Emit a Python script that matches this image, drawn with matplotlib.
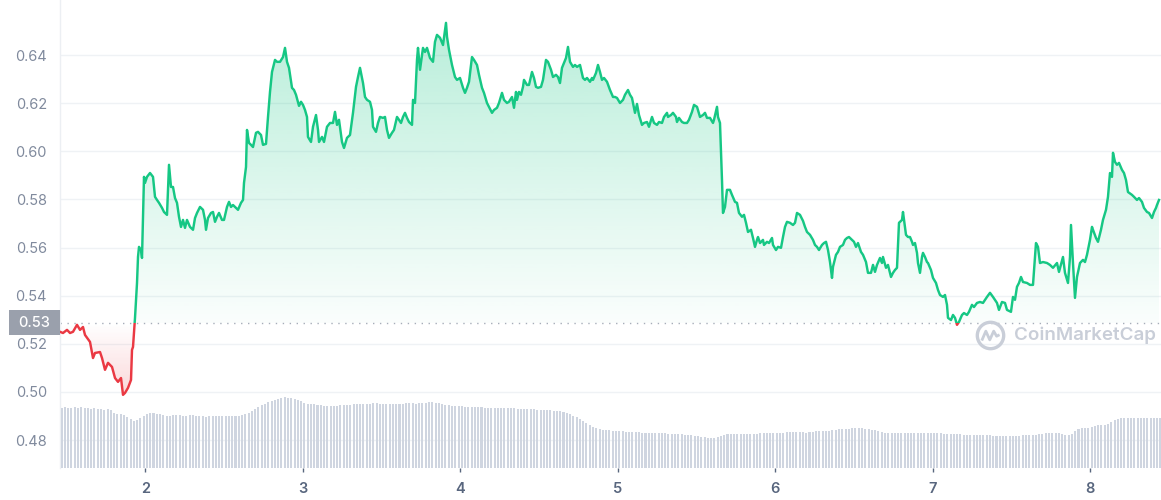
import numpy as np
import matplotlib
matplotlib.use('Agg')
import matplotlib.pyplot as plt
from matplotlib.patches import Polygon, Rectangle
from matplotlib.path import Path
from matplotlib.transforms import blended_transform_factory

plt.rcParams['font.family'] = ['Inter', 'DejaVu Sans']

# ---------------- data ----------------
days = [
    1.4582, 1.4773, 1.5027, 1.5218, 1.5408, 1.5662, 1.5853, 1.6043, 1.6170, 1.6488,
    1.6678, 1.6805, 1.7123, 1.7250, 1.7440, 1.7631, 1.7885, 1.8076, 1.8266, 1.8457,
    1.8584, 1.8711, 1.8901, 1.9092, 1.9155, 1.9219, 1.9346, 1.9473, 1.9536, 1.9600,
    1.9727, 1.9790, 1.9917, 1.9981, 2.0108, 2.0299, 2.0489, 2.0616, 2.0743, 2.0870,
    2.1061, 2.1188, 2.1378, 2.1505, 2.1632, 2.1759, 2.1886, 2.2013, 2.2140, 2.2267,
    2.2394, 2.2521, 2.2648, 2.2839, 2.3030, 2.3157, 2.3284, 2.3474, 2.3665, 2.3792,
    2.3855, 2.3982, 2.4173, 2.4300, 2.4427, 2.4554, 2.4681, 2.4871, 2.4998, 2.5189,
    2.5316, 2.5443, 2.5570, 2.5761, 2.5888, 2.6078, 2.6205, 2.6269, 2.6396, 2.6459,
    2.6586, 2.6713, 2.6840, 2.7031, 2.7158, 2.7348, 2.7475, 2.7666, 2.7793, 2.7920,
    2.8047, 2.8238, 2.8365, 2.8555, 2.8746, 2.8873, 2.9000, 2.9127, 2.9317, 2.9444,
    2.9571, 2.9762, 2.9889, 3.0016, 3.0143, 3.0270, 3.0333, 3.0524, 3.0651, 3.0842,
    3.0969, 3.1032, 3.1223, 3.1350, 3.1540, 3.1731, 3.1921, 3.2048, 3.2175, 3.2302,
    3.2493, 3.2620, 3.2810, 3.3001, 3.3191, 3.3382, 3.3509, 3.3636, 3.3827, 3.3954,
    3.4081, 3.4271, 3.4398, 3.4462, 3.4652, 3.4779, 3.4906, 3.5097, 3.5224, 3.5351,
    3.5478, 3.5668, 3.5795, 3.5986, 3.6113, 3.6240, 3.6367, 3.6494, 3.6621, 3.6748,
    3.6939, 3.7002, 3.7129, 3.7256, 3.7320, 3.7447, 3.7637, 3.7764, 3.7891, 3.8082,
    3.8272, 3.8399, 3.8526, 3.8717, 3.8908, 3.9098, 3.9162, 3.9289, 3.9479, 3.9670,
    3.9797, 3.9987, 4.0178, 4.0305, 4.0432, 4.0559, 4.0749, 4.0876, 4.1067, 4.1194,
    4.1384, 4.1511, 4.1702, 4.1829, 4.2020, 4.2147, 4.2337, 4.2464, 4.2655, 4.2782,
    4.2972, 4.3099, 4.3290, 4.3417, 4.3544, 4.3607, 4.3734, 4.3861, 4.3988, 4.4052,
    4.4243, 4.4370, 4.4560, 4.4687, 4.4814, 4.4941, 4.5132, 4.5259, 4.5449, 4.5576,
    4.5767, 4.5894, 4.6084, 4.6211, 4.6338, 4.6465, 4.6592, 4.6719, 4.6846, 4.6974,
    4.7164, 4.7291, 4.7418, 4.7609, 4.7799, 4.7926, 4.8053, 4.8244, 4.8371, 4.8434,
    4.8625, 4.8752, 4.8879, 4.9006, 4.9133, 4.9324, 4.9514, 4.9705, 4.9832, 4.9959,
    5.0149, 5.0340, 5.0467, 5.0657, 5.0784, 5.0911, 5.1102, 5.1229, 5.1356, 5.1546,
    5.1673, 5.1864, 5.1991, 5.2182, 5.2309, 5.2499, 5.2626, 5.2817, 5.2944, 5.3134,
    5.3198, 5.3388, 5.3515, 5.3706, 5.3769, 5.3896, 5.4087, 5.4214, 5.4404, 5.4531,
    5.4722, 5.4849, 5.5040, 5.5230, 5.5421, 5.5548, 5.5675, 5.5865, 5.6056, 5.6119,
    5.6310, 5.6373, 5.6500, 5.6627, 5.6691, 5.6818, 5.6945, 5.7135, 5.7262, 5.7453,
    5.7580, 5.7707, 5.7898, 5.8025, 5.8152, 5.8279, 5.8469, 5.8596, 5.8723, 5.8850,
    5.8914, 5.9041, 5.9231, 5.9295, 5.9485, 5.9612, 5.9803, 5.9867, 6.0057, 6.0184,
    6.0375, 6.0502, 6.0629, 6.0756, 6.0946, 6.1137, 6.1264, 6.1391, 6.1581, 6.1772,
    6.1899, 6.2026, 6.2216, 6.2407, 6.2534, 6.2661, 6.2788, 6.2979, 6.3106, 6.3233,
    6.3360, 6.3487, 6.3614, 6.3677, 6.3868, 6.3995, 6.4122, 6.4312, 6.4439, 6.4566,
    6.4693, 6.4884, 6.5011, 6.5138, 6.5265, 6.5456, 6.5583, 6.5773, 6.5900, 6.6091,
    6.6218, 6.6345, 6.6472, 6.6662, 6.6789, 6.6853, 6.7043, 6.7170, 6.7361, 6.7488,
    6.7615, 6.7742, 6.7869, 6.8060, 6.8123, 6.8187, 6.8314, 6.8441, 6.8568, 6.8695,
    6.8758, 6.8885, 6.9012, 6.9076, 6.9203, 6.9330, 6.9393, 6.9520, 6.9647, 6.9711,
    6.9901, 7.0028, 7.0219, 7.0346, 7.0473, 7.0664, 7.0791, 7.0918, 7.0981, 7.1172,
    7.1299, 7.1426, 7.1553, 7.1680, 7.1870, 7.1997, 7.2188, 7.2315, 7.2505, 7.2632,
    7.2823, 7.3013, 7.3204, 7.3458, 7.3649, 7.3839, 7.4093, 7.4220, 7.4411, 7.4601,
    7.4728, 7.4982, 7.5109, 7.5236, 7.5363, 7.5490, 7.5618, 7.5745, 7.5999, 7.6189,
    7.6380, 7.6570, 7.6697, 7.6824, 7.7015, 7.7269, 7.7459, 7.7650, 7.7904, 7.8031,
    7.8285, 7.8412, 7.8603, 7.8730, 7.8793, 7.8920, 7.9047, 7.9174, 7.9365, 7.9555,
    7.9682, 7.9809, 8.0000, 8.0127, 8.0190, 8.0381, 8.0508, 8.0698, 8.0825, 8.1016,
    8.1143, 8.1270, 8.1397, 8.1461, 8.1588, 8.1715, 8.1842, 8.2032, 8.2159, 8.2286,
    8.2413, 8.2667, 8.2794, 8.2985, 8.3112, 8.3302, 8.3429, 8.3620, 8.3747, 8.3938,
    8.4065, 8.4192, 8.4255, 8.4382,
]

price = [
    0.5250, 0.5245, 0.5258, 0.5245, 0.5250, 0.5279, 0.5258, 0.5270, 0.5237, 0.5208,
    0.5141, 0.5162, 0.5166, 0.5141, 0.5092, 0.5121, 0.5104, 0.5058, 0.5042, 0.5058,
    0.4988, 0.4996, 0.5017, 0.5050, 0.5175, 0.5187, 0.5308, 0.5453, 0.5561, 0.5603,
    0.5590, 0.5557, 0.5894, 0.5869, 0.5894, 0.5910, 0.5894, 0.5811, 0.5798, 0.5786,
    0.5765, 0.5748, 0.5736, 0.5944, 0.5852, 0.5852, 0.5806, 0.5786, 0.5728, 0.5686,
    0.5715, 0.5682, 0.5715, 0.5686, 0.5674, 0.5723, 0.5744, 0.5769, 0.5757, 0.5715,
    0.5674, 0.5723, 0.5744, 0.5748, 0.5707, 0.5728, 0.5744, 0.5715, 0.5715, 0.5769,
    0.5790, 0.5769, 0.5777, 0.5765, 0.5757, 0.5786, 0.5798, 0.5869, 0.5935, 0.6089,
    0.6035, 0.6027, 0.6018, 0.6077, 0.6081, 0.6068, 0.6027, 0.6031, 0.6143, 0.6247,
    0.6330, 0.6380, 0.6372, 0.6372, 0.6392, 0.6430, 0.6372, 0.6347, 0.6264, 0.6255,
    0.6235, 0.6189, 0.6206, 0.6193, 0.6172, 0.6143, 0.6060, 0.6039, 0.6102, 0.6151,
    0.6089, 0.6039, 0.6060, 0.6039, 0.6102, 0.6118, 0.6118, 0.6164, 0.6110, 0.6131,
    0.6039, 0.6014, 0.6056, 0.6068, 0.6160, 0.6268, 0.6309, 0.6347, 0.6284, 0.6226,
    0.6214, 0.6206, 0.6172, 0.6102, 0.6081, 0.6118, 0.6143, 0.6139, 0.6143, 0.6089,
    0.6056, 0.6077, 0.6089, 0.6143, 0.6131, 0.6118, 0.6143, 0.6160, 0.6139, 0.6122,
    0.6110, 0.6214, 0.6201, 0.6380, 0.6430, 0.6339, 0.6430, 0.6413, 0.6430, 0.6388,
    0.6372, 0.6455, 0.6484, 0.6472, 0.6442, 0.6534, 0.6476, 0.6422, 0.6359, 0.6309,
    0.6297, 0.6305, 0.6264, 0.6243, 0.6264, 0.6289, 0.6392, 0.6380, 0.6359, 0.6318,
    0.6264, 0.6243, 0.6201, 0.6185, 0.6160, 0.6172, 0.6181, 0.6201, 0.6243, 0.6214,
    0.6201, 0.6206, 0.6226, 0.6181, 0.6247, 0.6214, 0.6247, 0.6235, 0.6268, 0.6297,
    0.6276, 0.6276, 0.6330, 0.6305, 0.6268, 0.6264, 0.6268, 0.6297, 0.6380, 0.6372,
    0.6339, 0.6309, 0.6318, 0.6309, 0.6284, 0.6347, 0.6368, 0.6388, 0.6434, 0.6372,
    0.6351, 0.6359, 0.6351, 0.6359, 0.6305, 0.6297, 0.6305, 0.6289, 0.6305, 0.6297,
    0.6326, 0.6359, 0.6330, 0.6297, 0.6305, 0.6289, 0.6255, 0.6226, 0.6226, 0.6222,
    0.6201, 0.6214, 0.6235, 0.6255, 0.6235, 0.6222, 0.6160, 0.6197, 0.6151, 0.6110,
    0.6118, 0.6122, 0.6102, 0.6143, 0.6118, 0.6110, 0.6122, 0.6118, 0.6143, 0.6160,
    0.6143, 0.6151, 0.6160, 0.6143, 0.6122, 0.6139, 0.6122, 0.6118, 0.6118, 0.6131,
    0.6164, 0.6193, 0.6185, 0.6143, 0.6151, 0.6160, 0.6139, 0.6139, 0.6118, 0.6131,
    0.6185, 0.6143, 0.6118, 0.5881, 0.5744, 0.5769, 0.5840, 0.5840, 0.5819, 0.5790,
    0.5786, 0.5744, 0.5728, 0.5736, 0.5703, 0.5665, 0.5674, 0.5640, 0.5603, 0.5632,
    0.5644, 0.5619, 0.5632, 0.5611, 0.5624, 0.5619, 0.5640, 0.5611, 0.5590, 0.5603,
    0.5599, 0.5644, 0.5686, 0.5707, 0.5703, 0.5694, 0.5703, 0.5744, 0.5736, 0.5711,
    0.5686, 0.5665, 0.5653, 0.5632, 0.5611, 0.5603, 0.5590, 0.5611, 0.5619, 0.5624,
    0.5590, 0.5540, 0.5474, 0.5520, 0.5570, 0.5582, 0.5603, 0.5611, 0.5632, 0.5640,
    0.5644, 0.5632, 0.5624, 0.5603, 0.5619, 0.5582, 0.5570, 0.5540, 0.5495, 0.5495,
    0.5528, 0.5499, 0.5528, 0.5557, 0.5536, 0.5561, 0.5516, 0.5528, 0.5478, 0.5495,
    0.5507, 0.5516, 0.5703, 0.5715, 0.5748, 0.5715, 0.5653, 0.5644, 0.5644, 0.5624,
    0.5611, 0.5619, 0.5578, 0.5536, 0.5495, 0.5561, 0.5578, 0.5561, 0.5540, 0.5536,
    0.5507, 0.5474, 0.5453, 0.5424, 0.5403, 0.5395, 0.5403, 0.5362, 0.5308, 0.5299,
    0.5320, 0.5308, 0.5279, 0.5291, 0.5320, 0.5328, 0.5320, 0.5333, 0.5362, 0.5353,
    0.5370, 0.5374, 0.5370, 0.5395, 0.5412, 0.5395, 0.5370, 0.5341, 0.5374, 0.5370,
    0.5341, 0.5333, 0.5395, 0.5383, 0.5437, 0.5453, 0.5478, 0.5457, 0.5453, 0.5445,
    0.5445, 0.5619, 0.5603, 0.5536, 0.5540, 0.5536, 0.5528, 0.5516, 0.5536, 0.5499,
    0.5561, 0.5495, 0.5453, 0.5561, 0.5694, 0.5536, 0.5391, 0.5478, 0.5536, 0.5549,
    0.5540, 0.5570, 0.5632, 0.5686, 0.5674, 0.5640, 0.5624, 0.5674, 0.5715, 0.5757,
    0.5811, 0.5910, 0.5894, 0.5994, 0.5956, 0.5944, 0.5952, 0.5923, 0.5910, 0.5881,
    0.5831, 0.5819, 0.5811, 0.5798, 0.5806, 0.5790, 0.5765, 0.5748, 0.5744, 0.5723,
    0.5748, 0.5765, 0.5777, 0.5798,
]

reference_price = 0.5287
reference_label = "0.53"

# volume per 30-minute interval (arbitrary units)
volume = [
    60, 61, 60, 60, 61, 60, 61, 60, 60, 59, 60, 59, 59, 58, 59, 58,
    55, 54, 54, 53, 51, 49, 47, 48, 50, 52, 54, 55, 55, 54, 54,
    53, 52, 52, 53, 53, 53, 52, 52, 53, 53, 52, 52, 52, 51, 52, 52, 52, 52, 52, 52, 52, 52, 52, 52, 53, 54, 55,
    57, 59, 61, 63, 64, 66, 67,
    68, 69, 70, 71, 70, 70, 69, 68, 67,
    65, 64, 64, 64, 63, 63,
    62, 62, 62, 62, 62, 63, 63, 63, 63,
    64, 64, 64, 64, 64, 64, 65, 65, 64, 64, 64, 64, 64, 64, 64, 64, 65, 65, 65, 64, 65, 65,
    65, 66, 66, 65, 65, 64,
    63, 63, 62, 62, 62, 62, 61, 61, 61, 61, 61, 61,
    60, 60, 60, 60, 60, 60, 60, 60, 60, 60, 59, 59, 59, 59, 59, 59, 58, 58, 58, 58, 58, 57, 57, 57,
    56, 55, 54, 52, 51, 49,
    47, 45, 43, 41, 40, 39,
    38, 38, 38, 37, 37, 37, 37, 36, 36, 36, 36, 36, 35, 35, 35, 35,
    35, 35, 35, 35, 34, 34, 34, 34, 34, 33, 33, 33, 32, 32, 31,
    31, 30, 30, 30, 31, 32,
    33, 34, 34, 34, 34, 34, 34, 34, 34, 34, 34, 35, 35, 35, 35, 35, 35, 35, 35, 36, 36,
    36, 36, 36, 36, 35, 36, 36, 37, 37, 37, 37, 37, 38,
    38, 39, 39, 39, 39, 40, 40, 40, 40, 39, 39, 38, 38, 37, 36,
    35, 35, 35, 35, 35, 35, 35, 35, 35, 35, 35, 35, 35, 35, 35, 35, 35, 35, 34, 34, 34,
    34, 34, 34, 33, 33, 33, 33, 33, 33, 33, 33, 33,
    32, 32, 32, 32, 32, 32, 32, 32, 32, 33, 33, 33, 33, 33, 34, 34,
    35, 35, 35, 35, 35, 34,
    33, 33, 34,
    37, 39, 40, 40, 40, 41,
    42, 43, 43, 43, 44, 46,
    48, 49, 50, 50, 50, 50, 50, 50, 50, 50, 50, 50, 50, 50, 50,
]
volume_start_day = 1.4582
volume_interval_days = 1 / 48

y_ticks = [0.48, 0.50, 0.52, 0.54, 0.56, 0.58, 0.60, 0.62, 0.64]
x_ticks = [2, 3, 4, 5, 6, 7, 8]

# ---------------- style ----------------
GREEN = '#16c784'
RED = '#ea3943'
X_MIN, X_MAX = 1.4582, 8.451
Y_MIN, Y_MAX = 0.4684, 0.6629

days_a = np.asarray(days)
price_a = np.asarray(price)
base = reference_price

fig = plt.figure(figsize=(11.61, 5.0), dpi=100)
fig.patch.set_facecolor('white')
ax = fig.add_axes([60 / 1161, 32 / 500, 1101 / 1161, 468 / 500])
ax.set_xlim(X_MIN, X_MAX)
ax.set_ylim(Y_MIN, Y_MAX)

# grid + spines
ax.set_yticks(y_ticks)
ax.set_yticklabels([f"{v:.2f}" for v in y_ticks])
ax.set_xticks(x_ticks)
ax.set_xticklabels([str(v) for v in x_ticks])
ax.grid(axis='y', color='#eff2f5', lw=1)
ax.grid(axis='x', visible=False)
ax.set_axisbelow(True)
for s in ['top', 'right', 'bottom']:
    ax.spines[s].set_visible(False)
ax.spines['left'].set_color('#eceff3')
ax.spines['left'].set_linewidth(1)
ax.tick_params(axis='y', length=0, pad=9.5, labelsize=10.5, labelcolor='#808a9d')
ax.tick_params(axis='x', length=2.8, width=1, color='#58667e', pad=7.5,
               labelsize=10.5, labelcolor='#58667e')
for lbl in ax.get_xticklabels():
    lbl.set_fontweight('semibold')

# gradient fills
green_rgb = matplotlib.colors.to_rgb(GREEN)
red_rgb = matplotlib.colors.to_rgb(RED)
n = 256
g = np.zeros((n, 1, 4))
g[..., :3] = green_rgb
g[:, 0, 3] = np.linspace(0.02, 0.30, n)
im_g = ax.imshow(g, extent=[X_MIN, X_MAX, base, price_a.max()], origin='lower',
                 aspect='auto', interpolation='bilinear', zorder=1)
poly_g = np.vstack([np.column_stack([days_a, np.maximum(price_a, base)]),
                    [[days_a[-1], base], [days_a[0], base]]])
pg = Polygon(poly_g, closed=True, facecolor='none', edgecolor='none', transform=ax.transData)
ax.add_patch(pg)
im_g.set_clip_path(pg)

r = np.zeros((n, 1, 4))
r[..., :3] = red_rgb
r[:, 0, 3] = np.linspace(0.20, 0.0, n)
im_r = ax.imshow(r, extent=[X_MIN, X_MAX, price_a.min(), base], origin='lower',
                 aspect='auto', interpolation='bilinear', zorder=1)
poly_r = np.vstack([np.column_stack([days_a, np.minimum(price_a, base)]),
                    [[days_a[-1], base], [days_a[0], base]]])
pr = Polygon(poly_r, closed=True, facecolor='none', edgecolor='none', transform=ax.transData)
ax.add_patch(pr)
im_r.set_clip_path(pr)
ax.set_xlim(X_MIN, X_MAX)
ax.set_ylim(Y_MIN, Y_MAX)

# reference dotted line
ax.axhline(base, color='#a6adb9', lw=1.0, ls=(0, (1, 4)), zorder=2)

# price line, green above reference, red below
ln_g, = ax.plot(days_a, price_a, color=GREEN, lw=1.75, solid_joinstyle='round', zorder=3)
ln_g.set_clip_path(Rectangle((X_MIN, base), X_MAX - X_MIN, Y_MAX - base, transform=ax.transData))
ln_r, = ax.plot(days_a, price_a, color=RED, lw=1.75, solid_joinstyle='round', zorder=3)
ln_r.set_clip_path(Rectangle((X_MIN, Y_MIN), X_MAX - X_MIN, base - Y_MIN, transform=ax.transData))

# reference label box
trans = blended_transform_factory(ax.transAxes, ax.transData)
ax.add_patch(Rectangle((-51 / 1101, base - 0.0052), 51 / 1101, 0.0104, transform=trans,
                       clip_on=False, facecolor='#9aa0ac', edgecolor='none', zorder=5))
ax.text(-25.5 / 1101, base, reference_label, transform=trans, ha='center', va='center',
        color='white', fontsize=10.5, fontweight='medium', zorder=6, clip_on=False)

# watermark
wm_color = '#c9ced8'
ax.plot([0.8447], [0.284], marker='o', ms=19, mfc='none', mec=wm_color, mew=2.4,
        transform=ax.transAxes, zorder=2, clip_on=False)
wave = Path([(-0.6, -0.35), (-0.32, 0.3), (-0.05, -0.3), (0.22, 0.3), (0.42, -0.05), (0.62, 0.05)],
            [Path.MOVETO] + [Path.LINETO] * 5)
ax.plot([0.8447], [0.284], marker=wave, ms=13, mfc='none', mec=wm_color, mew=2.0,
        transform=ax.transAxes, zorder=2, clip_on=False)
ax.text(0.8665, 0.284, 'CoinMarketCap', transform=ax.transAxes, ha='left', va='center',
        fontsize=13.5, fontweight='semibold', color=wm_color, zorder=2)

# volume bars on twin axis
ax2 = ax.twinx()
ax2.set_ylim(0, 468)
vol_days = volume_start_day + (np.arange(len(volume)) + 0.5) * volume_interval_days
ax2.bar(vol_days, volume, width=volume_interval_days * 0.62, color='#cfd5e0',
        edgecolor='none', align='center')
ax2.set_xlim(X_MIN, X_MAX)
ax2.axis('off')

fig.savefig('out.png', dpi=100, facecolor='white')
